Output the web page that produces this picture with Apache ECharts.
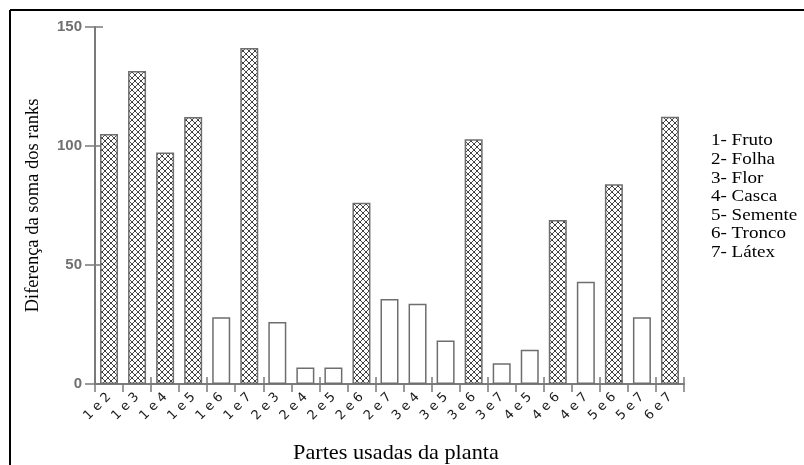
<!DOCTYPE html>
<html>
<head>
<meta charset="utf-8">
<script src="https://cdn.jsdelivr.net/npm/echarts@6/dist/echarts.min.js"></script>
<style>
  html, body { margin: 0; padding: 0; background: #fff; }
  #chart { width: 804px; height: 465px; }
</style>
</head>
<body>
<div id="chart"></div>
<script>
// Pairwise comparisons between plant parts
const categories = ['1 e 2','1 e 3','1 e 4','1 e 5','1 e 6','1 e 7','2 e 3','2 e 4','2 e 5','2 e 6','2 e 7',
                    '3 e 4','3 e 5','3 e 6','3 e 7','4 e 5','4 e 6','4 e 7','5 e 6','5 e 7','6 e 7'];
// Difference of rank sums for each pair
const rankDiff = [105, 131.5, 97.3, 112.2, 28, 141.2, 26, 6.9, 6.9, 76.2, 35.7,
                  33.7, 18.3, 102.8, 8.7, 14.4, 68.9, 43, 83.9, 28, 112.3];
// 1 = significant difference (cross-hatched bar)
const significant = [1, 1, 1, 1, 0, 1, 0, 0, 0, 1, 0,
                     0, 0, 1, 0, 0, 1, 0, 1, 0, 1];
// Key for the part numbers
const partNames = ['1- Fruto', '2- Folha', '3- Flor', '4- Casca', '5- Semente', '6- Tronco', '7- Látex'];
const yTicks = { min: 0, max: 150, interval: 50 };

// Cross-hatch fill tile
function hatchTile() {
  const c = document.createElement('canvas');
  const s = 6;
  c.width = s; c.height = s;
  const g = c.getContext('2d');
  g.fillStyle = '#ffffff';
  g.fillRect(0, 0, s, s);
  g.strokeStyle = '#3a3a3a';
  g.lineWidth = 0.9;
  g.beginPath();
  g.moveTo(0, 0); g.lineTo(s, s);
  g.moveTo(s, 0); g.lineTo(0, s);
  g.stroke();
  g.fillStyle = '#222';
  g.fillRect(0, 0, 1, 1);
  g.fillRect(s / 2 - 0.5, s / 2 - 0.5, 1, 1);
  return c;
}
const hatch = { image: hatchTile(), repeat: 'repeat' };

const chart = echarts.init(document.getElementById('chart'), null, { renderer: 'canvas' });

const legendItems = partNames.map((t, i) => ({
  type: 'text',
  x: 711,
  y: 141 + i * 18.6,
  scaleX: 1.12,
  style: { text: t, font: '17px "Liberation Serif", serif', fill: '#000', verticalAlign: 'middle' }
}));

chart.setOption({
  animation: false,
  backgroundColor: '#fff',
  grid: { left: 95, right: 120, top: 27, bottom: 81, containLabel: false },
  xAxis: [{
    type: 'category',
    data: categories,
    boundaryGap: true,
    axisLine: { show: true, lineStyle: { color: '#7a7a7a', width: 2 } },
    axisTick: { show: true, length: 8, lineStyle: { color: '#7a7a7a', width: 1.5 } },
    axisLabel: {
      rotate: 45, margin: 11, interval: 0,
      color: '#1a1a1a', fontFamily: '"DejaVu Sans", sans-serif', fontSize: 13
    },
    splitLine: { show: false }
  }, {
    type: 'category',
    data: categories,
    position: 'bottom',
    boundaryGap: true,
    axisLine: { show: false },
    axisTick: { show: true, inside: true, length: 7, lineStyle: { color: '#7a7a7a', width: 1.5 } },
    axisLabel: { show: false },
    splitLine: { show: false }
  }],
  yAxis: [{
    type: 'value',
    min: yTicks.min, max: yTicks.max, interval: yTicks.interval,
    axisLine: { show: true, lineStyle: { color: '#7a7a7a', width: 2 } },
    axisTick: { show: true, length: 10, lineStyle: { color: '#7a7a7a', width: 1.5 } },
    axisLabel: {
      margin: 13, color: '#707070', fontFamily: '"Liberation Sans", Arial, sans-serif',
      fontSize: 15, fontWeight: 'bold'
    },
    splitLine: { show: false },
    name: 'Diferença da soma dos ranks',
    nameLocation: 'middle',
    nameGap: 52,
    nameTextStyle: { fontFamily: '"Liberation Serif", serif', fontSize: 18.5, color: '#000' }
  }, {
    type: 'value',
    position: 'left',
    min: yTicks.min, max: yTicks.max, interval: yTicks.interval,
    axisLine: { show: false },
    axisTick: { show: true, inside: true, length: 8, lineStyle: { color: '#7a7a7a', width: 1.5 } },
    axisLabel: { show: false },
    splitLine: { show: false }
  }],
  series: [{
    type: 'bar',
    xAxisIndex: 0,
    yAxisIndex: 0,
    barWidth: 18,
    data: rankDiff.map((v, i) => ({
      value: v,
      itemStyle: {
        color: significant[i] ? hatch : '#ffffff',
        borderColor: '#6e6e6e',
        borderWidth: 1.5
      }
    }))
  }],
  graphic: [
    { type: 'line', shape: { x1: 10, y1: 10, x2: 10, y2: 465 }, style: { stroke: '#000', lineWidth: 2 } },
    { type: 'line', shape: { x1: 10, y1: 10, x2: 804, y2: 10 }, style: { stroke: '#000', lineWidth: 2 } },
    {
      type: 'text', x: 293, y: 453, scaleX: 1.06,
      style: { text: 'Partes usadas da planta', font: '21px "Liberation Serif", serif', fill: '#000', verticalAlign: 'middle' }
    }
  ].concat(legendItems)
});
</script>
</body>
</html>
